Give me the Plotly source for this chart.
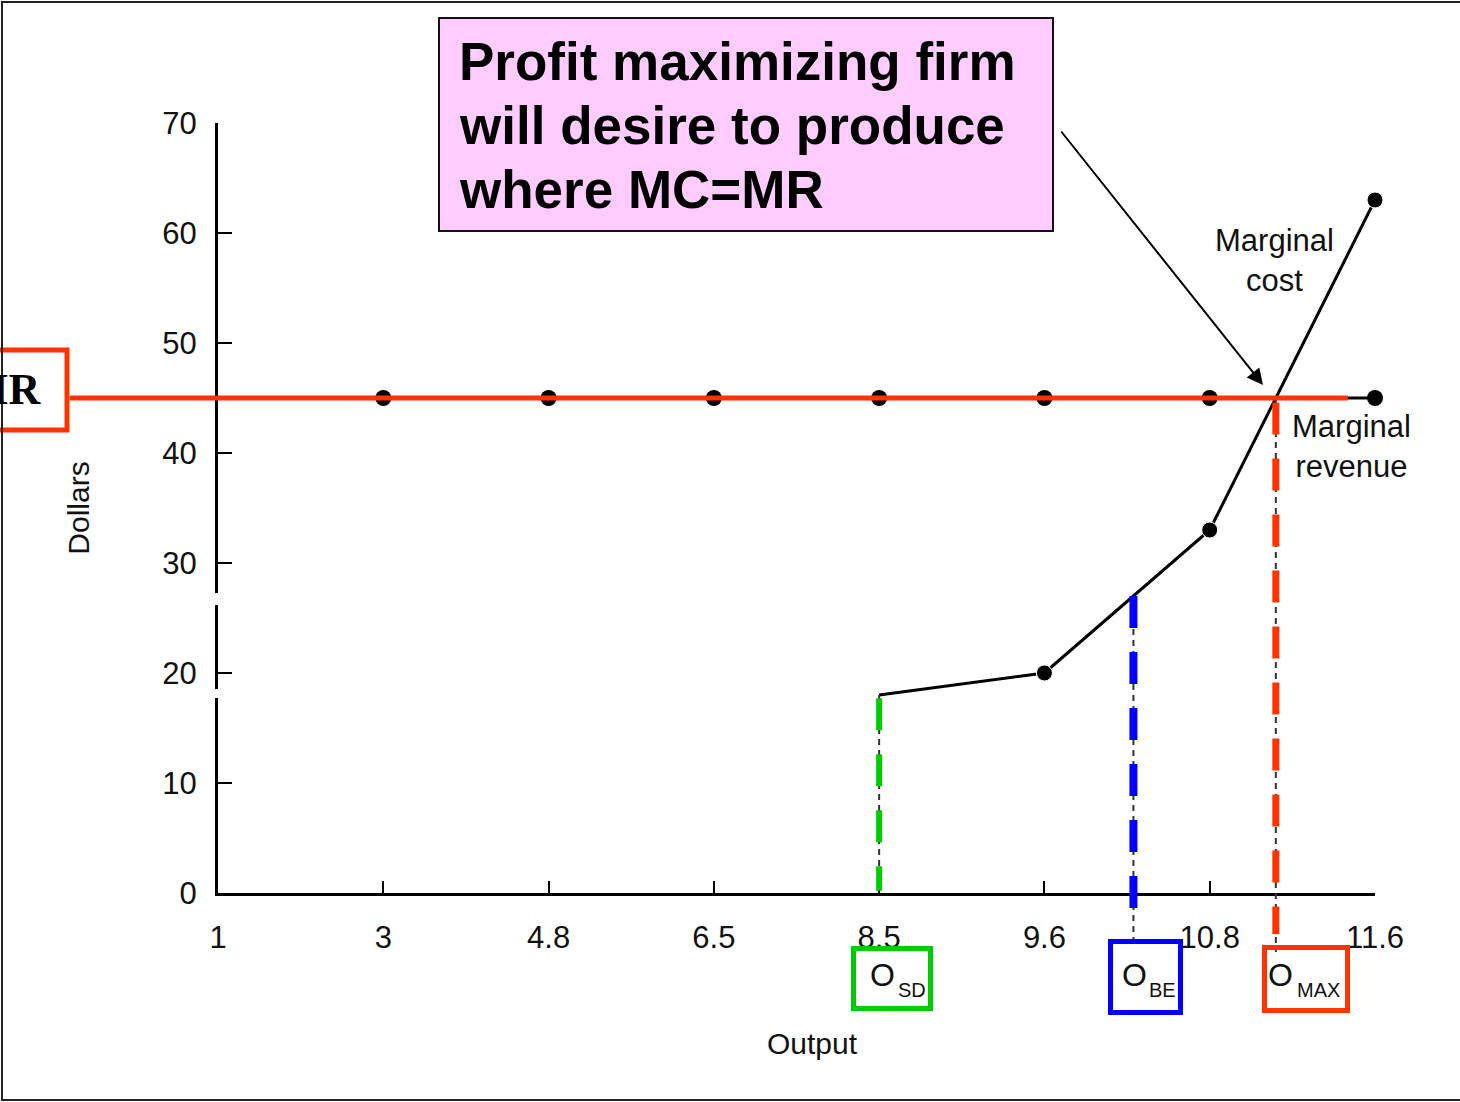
import plotly.graph_objects as go

# ---- data -------------------------------------------------------------
output_labels = ["1", "3", "4.8", "6.5", "8.5", "9.6", "10.8", "11.6"]
mr_output = ["3", "4.8", "6.5", "8.5", "9.6", "10.8", "11.6"]
mr_dollars = [45, 45, 45, 45, 45, 45, 45]
mc_output = ["8.5", "9.6", "10.8", "11.6"]
mc_dollars = [18, 20, 33, 63]
breakeven_price = 27
dollar_ticks = [0, 10, 20, 30, 40, 50, 60, 70]

# ---- geometry helpers -------------------------------------------------
W, H = 1460, 1102
ML, MR_, MT, MB = 218, 85, 123, 209
PW, PH = W - ML - MR_, H - MT - MB
Y_MAX = 70
X_MAX = len(output_labels) - 1


def px(xp):
    return (xp - ML) / PW


def py(yp):
    return (H - MB - yp) / PH


def pos(label):
    return output_labels.index(label)


def mc_crossing(level):
    """Fractional output position where the MC curve reaches a dollar level."""
    xs = [pos(o) for o in mc_output]
    for i in range(len(xs) - 1):
        a, b = mc_dollars[i], mc_dollars[i + 1]
        if a <= level <= b:
            return xs[i] + (level - a) / (b - a) * (xs[i + 1] - xs[i])
    return xs[-1]


FONT = "Liberation Sans, Arial, Helvetica, sans-serif"
RED = "#FF3300"
GREEN = "#00CC00"
BLUE = "#0000FF"
INK = "#111111"

mr_level = mr_dollars[0]
x_sd = pos(mc_output[0])
y_sd = mc_dollars[0]
x_be = mc_crossing(breakeven_price)
x_max = mc_crossing(mr_level)

fig = go.Figure()

# marginal revenue (black, with dots)
fig.add_trace(go.Scatter(
    x=[pos(o) for o in mr_output], y=mr_dollars, mode="lines+markers",
    line=dict(color="black", width=3),
    marker=dict(color="black", size=16, opacity=1),
    cliponaxis=False, showlegend=False, hoverinfo="skip"))

# marginal cost
fig.add_trace(go.Scatter(
    x=[pos(o) for o in mc_output], y=mc_dollars, mode="lines+markers",
    line=dict(color="black", width=3),
    marker=dict(color="black", size=[0, 16, 16, 16], opacity=1),
    cliponaxis=False, showlegend=False, hoverinfo="skip"))

shapes = []

# thin guide lines under the coloured markers
thin = dict(color="#333333", width=2, dash="6px,5px")
shapes.append(dict(type="line", xref="x", yref="y", x0=x_sd, x1=x_sd,
                   y0=y_sd, y1=0, line=thin, layer="above"))
shapes.append(dict(type="line", xref="x", yref="paper", x0=x_be, x1=x_be,
                   y0=breakeven_price / Y_MAX, y1=py(940), line=thin, layer="above"))
shapes.append(dict(type="line", xref="x", yref="paper", x0=x_max, x1=x_max,
                   y0=mr_level / Y_MAX, y1=py(952), line=thin, layer="above"))

# coloured dashed markers of the three output levels
shapes.append(dict(type="line", xref="x", yref="y", x0=x_sd, x1=x_sd,
                   y0=y_sd - 0.3, y1=0.2,
                   line=dict(color=GREEN, width=6, dash="32px,24px"), layer="above"))
shapes.append(dict(type="line", xref="x", yref="paper", x0=x_be, x1=x_be,
                   y0=breakeven_price / Y_MAX, y1=py(913),
                   line=dict(color=BLUE, width=8, dash="32px,24px"), layer="above"))
shapes.append(dict(type="line", xref="x", yref="paper", x0=x_max, x1=x_max,
                   y0=(mr_level - 0.4) / Y_MAX, y1=py(934),
                   line=dict(color=RED, width=7, dash="32px,24px"), layer="above"))

# highlighted MR line
shapes.append(dict(type="line", xref="paper", yref="y", x0=px(70), x1=px(1348),
                   y0=mr_level, y1=mr_level,
                   line=dict(color=RED, width=5), layer="above"))

# label boxes
shapes.append(dict(type="rect", xref="paper", yref="paper",
                   x0=px(-10), x1=px(67), y0=py(350), y1=py(430),
                   line=dict(color=RED, width=5), layer="above"))
shapes.append(dict(type="rect", xref="paper", yref="paper",
                   x0=px(853.5), x1=px(930.5), y0=py(948.5), y1=py(1008.5),
                   line=dict(color=GREEN, width=5), layer="above"))
shapes.append(dict(type="rect", xref="paper", yref="paper",
                   x0=px(1110.5), x1=px(1180.5), y0=py(941.5), y1=py(1012.5),
                   line=dict(color=BLUE, width=5), layer="above"))
shapes.append(dict(type="rect", xref="paper", yref="paper",
                   x0=px(1264.5), x1=px(1347.5), y0=py(947.5), y1=py(1010.5),
                   line=dict(color=RED, width=5), layer="above"))

# callout box
shapes.append(dict(type="rect", xref="paper", yref="paper",
                   x0=px(439), x1=px(1053), y0=py(18), y1=py(231),
                   fillcolor="#FFCCFF", line=dict(color=INK, width=2),
                   layer="above"))

# breaks in the dollar axis
for top, bot in [(593, 605), (689, 698)]:
    shapes.append(dict(type="rect", xref="paper", yref="paper",
                       x0=px(200), x1=px(236), y0=py(top), y1=py(bot),
                       fillcolor="white", line=dict(width=0), layer="above"))

# page frame (left, top, bottom)
frame = dict(color="#222222", width=2)
shapes.append(dict(type="line", xref="paper", yref="paper",
                   x0=px(2), x1=px(2), y0=py(1), y1=py(1101), line=frame, layer="above"))
shapes.append(dict(type="line", xref="paper", yref="paper",
                   x0=px(1), x1=px(1460), y0=py(2), y1=py(2), line=frame, layer="above"))
shapes.append(dict(type="line", xref="paper", yref="paper",
                   x0=px(1), x1=px(1460), y0=py(1100), y1=py(1100), line=frame, layer="above"))

annotations = []

# callout text
for txt, yc in [("Profit maximizing firm", 62),
                ("will desire to produce", 126),
                ("where MC=MR", 189)]:
    annotations.append(dict(text=f"<b>{txt}</b>", xref="paper", yref="paper",
                            x=px(457), y=py(yc), xanchor="left", yanchor="middle",
                            showarrow=False,
                            font=dict(family=FONT, size=53, color="black")))

# arrow from callout to MC = MR
annotations.append(dict(text="", xref="paper", yref="paper",
                        x=px(1263), y=py(385), ax=1060 - 1263, ay=130 - 385,
                        showarrow=True, arrowhead=2, arrowsize=1.6, arrowwidth=2,
                        arrowcolor="black"))

# curve labels
annotations.append(dict(text="Marginal<br>cost", xref="paper", yref="paper",
                        x=px(1274), y=py(260), xanchor="center", yanchor="middle",
                        showarrow=False, font=dict(family=FONT, size=31, color=INK)))
annotations.append(dict(text="Marginal<br>revenue", xref="paper", yref="paper",
                        x=px(1351), y=py(446), xanchor="center", yanchor="middle",
                        showarrow=False, font=dict(family=FONT, size=31, color=INK)))

# MR tag
annotations.append(dict(text="<b>MR</b>", xref="paper", yref="paper",
                        x=px(44), y=py(390), xanchor="right", yanchor="middle",
                        showarrow=False,
                        font=dict(family="Liberation Serif, Times New Roman, serif",
                                  size=44, color="black")))

# output level tags: a large "O" with a lowered, smaller subscript
for sub, x_o, x_sub in [("SD", 882, 896),
                        ("BE", 1134, 1147),
                        ("MAX", 1280, 1295)]:
    annotations.append(dict(text="O", xref="paper", yref="paper",
                            x=px(x_o), y=py(975), xanchor="center", yanchor="middle",
                            showarrow=False,
                            font=dict(family=FONT, size=32, color=INK)))
    annotations.append(dict(text=sub, xref="paper", yref="paper",
                            x=px(x_sub), y=py(990), xanchor="left", yanchor="middle",
                            showarrow=False,
                            font=dict(family=FONT, size=20, color=INK)))

# horizontal axis title
annotations.append(dict(text="Output", xref="paper", yref="paper",
                        x=px(812), y=py(1043), xanchor="center", yanchor="middle",
                        showarrow=False, font=dict(family=FONT, size=30, color=INK)))

fig.update_layout(
    width=W, height=H,
    margin=dict(l=ML, r=MR_, t=MT, b=MB, pad=0),
    paper_bgcolor="white", plot_bgcolor="white",
    shapes=shapes, annotations=annotations,
    font=dict(family=FONT, size=30, color=INK),
)

fig.update_xaxes(
    range=[0, X_MAX], tickvals=list(range(len(output_labels))), ticktext=output_labels,
    showgrid=False, zeroline=False, showline=True, linecolor="black", linewidth=3,
    ticks="inside", ticklen=12, tickwidth=2, tickcolor="black",
    ticklabelstandoff=15, tickfont=dict(size=31, color=INK),
)
fig.update_yaxes(
    range=[0, Y_MAX], tickvals=dollar_ticks,
    showgrid=False, zeroline=False, showline=True, linecolor="black", linewidth=3,
    ticks="inside", ticklen=14, tickwidth=2, tickcolor="black",
    ticklabelstandoff=12, tickfont=dict(size=31, color=INK),
    title=dict(text="Dollars", standoff=64, font=dict(size=30, color=INK)),
)

fig.write_html("out.html")
